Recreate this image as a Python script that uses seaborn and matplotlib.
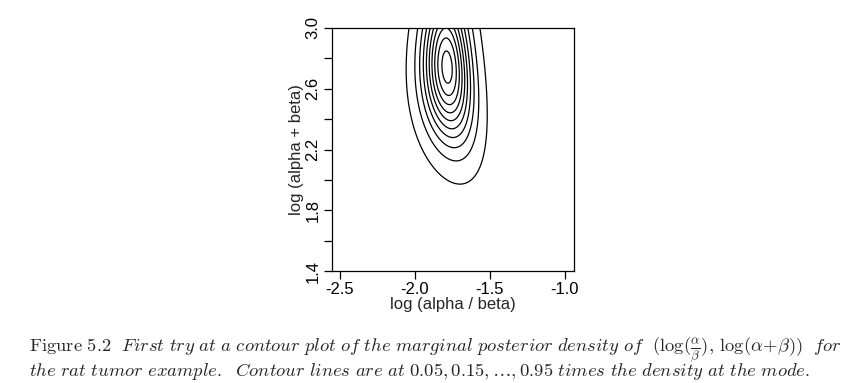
import math

import matplotlib
matplotlib.use("Agg")
import matplotlib.pyplot as plt
import numpy as np
import seaborn as sns

# Rat tumor data (71 experiments: tumors y out of n rats)
y_tumors = [0, 0, 0, 0, 0, 0, 0, 0, 0, 0, 0, 0, 0, 0, 1, 1, 1, 1, 1, 1, 1, 1,
            2, 2, 2, 2, 2, 2, 2, 2, 2, 1, 5, 2, 5, 3, 2, 7, 7, 3, 3, 2, 9, 10,
            4, 4, 4, 4, 4, 4, 4, 10, 4, 4, 4, 5, 11, 12, 5, 5, 6, 5, 6, 6, 6, 6,
            16, 15, 15, 9, 4]
n_rats = [20, 20, 20, 20, 20, 20, 20, 19, 19, 19, 19, 18, 18, 17, 20, 20, 20, 20,
          19, 19, 18, 18, 25, 24, 23, 20, 20, 20, 20, 20, 20, 10, 49, 19, 46, 27,
          17, 49, 47, 20, 20, 13, 48, 50, 20, 20, 20, 20, 20, 20, 20, 48, 19, 19,
          19, 22, 46, 49, 20, 20, 23, 19, 22, 20, 20, 20, 52, 46, 47, 24, 14]

# grid of the "first try" and contour levels (fraction of density at the mode)
grid_x = (-2.5, -1.0)
grid_y = (1.4, 3.0)
levels = [0.05, 0.15, 0.25, 0.35, 0.45, 0.55, 0.65, 0.75, 0.85, 0.95]

x_ticks = [-2.5, -2.0, -1.5, -1.0]
x_ticklabels = ["-2.5", "-2.0", "-1.5", "-1.0"]
y_ticks = [1.4, 1.6, 1.8, 2.0, 2.2, 2.4, 2.6, 2.8, 3.0]
y_ticklabels = ["1.4", "", "1.8", "", "2.2", "", "2.6", "", "3.0"]

# marginal posterior of (log(a/b), log(a+b))
lg = np.frompyfunc(math.lgamma, 1, 1)
u = np.linspace(grid_x[0], grid_x[1], 160)
v = np.linspace(grid_y[0], grid_y[1], 160)
U, V = np.meshgrid(u, v)
a = np.exp(V) * np.exp(U) / (1 + np.exp(U))
b = np.exp(V) / (1 + np.exp(U))
yv = np.array(y_tumors, dtype=float)[:, None, None]
nv = np.array(n_rats, dtype=float)[:, None, None]
A = a[None]
B = b[None]
terms = (lg(A + B) - lg(A) - lg(B) + lg(A + yv) + lg(B + nv - yv) - lg(A + B + nv)).astype(float)
logp = -2.5 * np.log(a + b) + np.log(a) + np.log(b) + terms.sum(axis=0)
dens = np.exp(logp - logp.max())

sns.set_style("ticks")
plt.rcParams["font.family"] = ["Liberation Sans", "DejaVu Sans"]
plt.rcParams["mathtext.fontset"] = "cm"

fig = plt.figure(figsize=(8.41, 3.83), dpi=100)
ax = fig.add_axes([0.3944, 0.2924, 0.2881, 0.6345])
ax.contour(U, V, dens, levels=levels, colors="black", linewidths=0.9)

ax.set_xlim(-2.555, -0.94)
ax.set_ylim(1.4, 3.0)
ax.set_xticks(x_ticks)
ax.set_xticklabels(x_ticklabels)
ax.set_yticks(y_ticks)
ax.set_yticklabels(y_ticklabels, rotation=90, va="center")
ax.tick_params(direction="out", length=6, width=0.9, labelsize=12, pad=2,
               colors="black")
for s in ax.spines.values():
    s.set_color("black")
    s.set_linewidth(0.9)
ax.set_xlabel("log (alpha / beta)", fontsize=12, labelpad=0)
ax.set_ylabel("log (alpha + beta)", fontsize=12, labelpad=1)

line1 = (r"$\mathrm{Figure\ 5.2}\ \ \mathit{First\ try\ at\ a\ contour\ plot\ of\ the\ "
         r"marginal\ posterior\ density\ of}\ \ (\log(\frac{\alpha}{\beta}),\,"
         r"\log(\alpha\!+\!\beta))\ \ \mathit{for}$")
line2 = (r"$\mathit{the\ rat\ tumor\ example.\ \ Contour\ lines\ are\ at}\ "
         r"0.05,0.15,\ldots,0.95\ \mathit{times\ the\ density\ at\ the\ mode.}$")
fig.text(29 / 841, 1 - 352 / 383, line1, fontsize=13.4, ha="left", va="baseline")
fig.text(29 / 841, 1 - 376 / 383, line2, fontsize=13.4, ha="left", va="baseline")

fig.savefig("out.png", dpi=100)
